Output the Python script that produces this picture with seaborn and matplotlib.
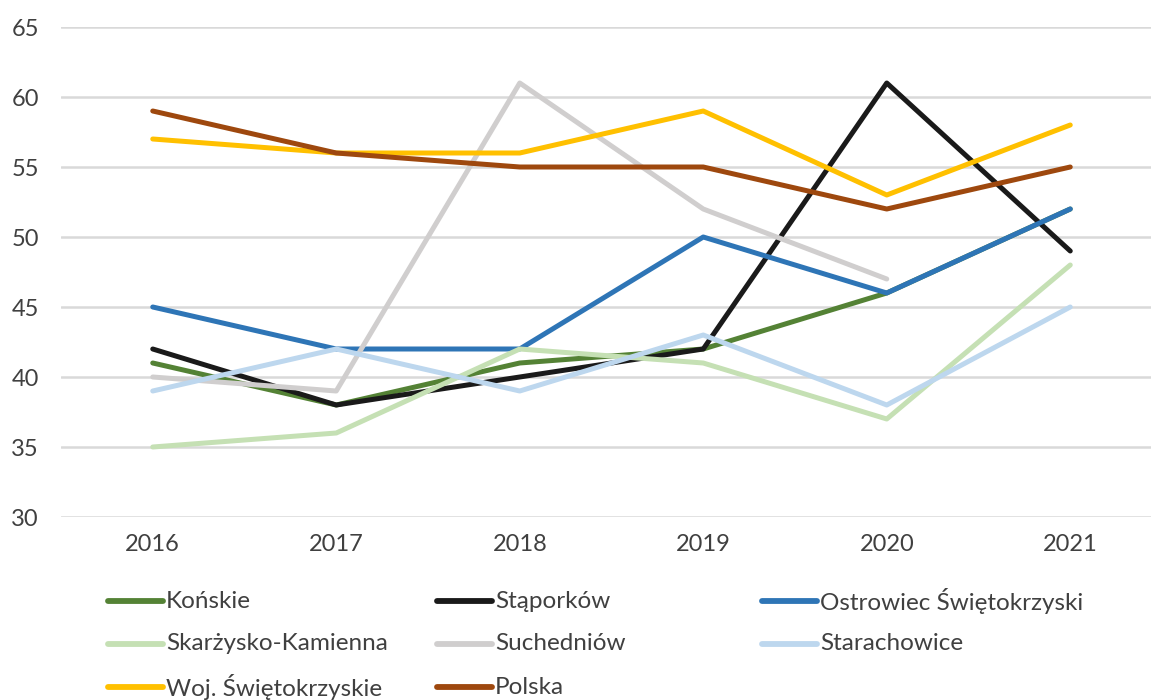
import pandas as pd
import numpy as np
import matplotlib.pyplot as plt
import seaborn as sns
from matplotlib.lines import Line2D

years = [2016, 2017, 2018, 2019, 2020, 2021]

konskie = [41, 38, 41, 42, 46, 52]
staporkow = [42, 38, 40, 42, 61, 49]
ostrowiec = [45, 42, 42, 50, 46, 52]
skarzysko = [35, 36, 42, 41, 37, 48]
suchedniow = [40, 39, 61, 52, 47, np.nan]
starachowice = [39, 42, 39, 43, 38, 45]
woj = [57, 56, 56, 59, 53, 58]
polska = [59, 56, 55, 55, 52, 55]

names = ["Końskie", "Stąporków", "Ostrowiec Świętokrzyski",
         "Skarżysko-Kamienna", "Suchedniów", "Starachowice",
         "Woj. Świętokrzyskie", "Polska"]
series = [konskie, staporkow, ostrowiec, skarzysko, suchedniow,
          starachowice, woj, polska]
colors = ["#548235", "#1a1a1a", "#2E75B6", "#C5E0B4", "#D0CECE",
          "#BDD7EE", "#FFC000", "#9E480E"]

rows = []
for n, vals in zip(names, series):
    for y, v in zip(years, vals):
        rows.append({"rok": y, "wartosc": v, "seria": n})
df = pd.DataFrame(rows).dropna()

sns.set_theme(style="white")
plt.rcParams['font.family'] = ['Lato', 'DejaVu Sans']

W, H = 1151, 700
fig = plt.figure(figsize=(W / 100, H / 100), dpi=100)
ax = fig.add_axes([61 / W, 1 - 517 / H, 1 - 61 / W, (517 - 27) / H])

sns.lineplot(data=df, x="rok", y="wartosc", hue="seria", hue_order=names,
             palette=dict(zip(names, colors)), linewidth=3.6, estimator=None,
             legend=False, ax=ax, solid_capstyle="round")

ax.set_ylim(30, 65)
ax.set_yticks(range(30, 70, 5))
ax.set_xlim(2015.5, 2021.44)
ax.set_xticks(years)
ax.set_xlabel("")
ax.set_ylabel("")
ax.yaxis.grid(True, color="#D9D9D9", linewidth=1.8)
ax.set_axisbelow(True)
for s in ax.spines.values():
    s.set_visible(False)
ax.tick_params(axis="both", length=0, labelsize=17, labelcolor="#404040")
ax.tick_params(axis="y", pad=16)
ax.tick_params(axis="x", pad=12)

# legend: three fixed-width columns, drawn by hand in pixel positions
col_x = [108, 437, 762]
row_y = [601, 644, 687]
for i, (n, c) in enumerate(zip(names, colors)):
    x0 = col_x[i % 3]
    y0 = row_y[i // 3]
    fig.add_artist(Line2D([x0 / W, (x0 + 55) / W], [1 - y0 / H, 1 - y0 / H],
                          color=c, linewidth=4.2, solid_capstyle="round",
                          transform=fig.transFigure))
    fig.text((x0 + 58) / W, 1 - y0 / H, n, fontsize=17.5, color="#404040",
             va="center", ha="left")

fig.savefig("out.png", dpi=100)
